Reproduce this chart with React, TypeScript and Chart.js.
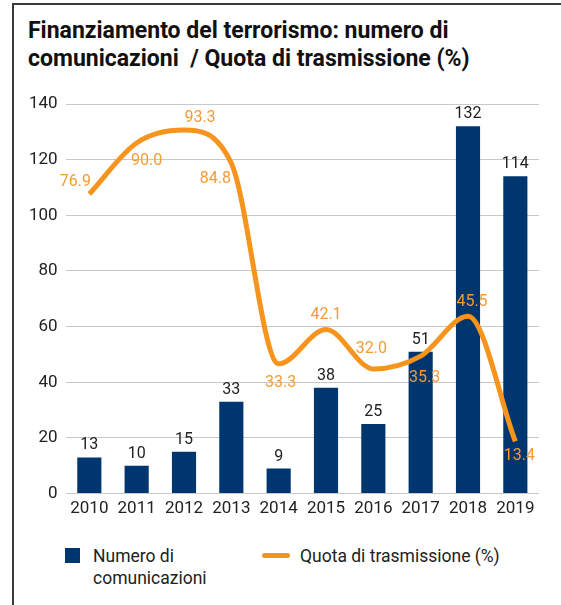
import React, { useEffect, useRef } from "react";
import { Chart, registerables } from "chart.js";

Chart.register(...registerables);

const years = ["2010", "2011", "2012", "2013", "2014", "2015", "2016", "2017", "2018", "2019"];
const comunicazioni = [13, 10, 15, 33, 9, 38, 25, 51, 132, 114];
const quota = [76.9, 90.0, 93.3, 84.8, 33.3, 42.1, 32.0, 35.3, 45.5, 13.4];
const yTicks = [0, 20, 40, 60, 80, 100, 120, 140];

// label placement (layout only)
const quotaLabelDx = [-14, 10, 16, -16, 2, 0, -2, 4, 4, 4];
const quotaLabelDy = [-12, 18, -12, 16, 19, -15, -20, 22, -14, 15];

const BAR_COLOR = "#00366f";
const LINE_COLOR = "#f7941d";
const LINE_LABEL_COLOR = "#f59b35";
const FONT = "Roboto, 'Liberation Sans', sans-serif";

const labelPlugin = {
  id: "valueLabels",
  afterDatasetsDraw(chart: any) {
    const ctx = chart.ctx;
    ctx.save();
    ctx.textAlign = "center";
    ctx.textBaseline = "middle";
    const barMeta = chart.getDatasetMeta(0);
    ctx.font = `16px ${FONT}`;
    ctx.fillStyle = "#222";
    barMeta.data.forEach((el: any, i: number) => {
      ctx.fillText(String(comunicazioni[i]), el.x, el.y - 12);
    });
    const lineMeta = chart.getDatasetMeta(1);
    ctx.fillStyle = LINE_LABEL_COLOR;
    lineMeta.data.forEach((el: any, i: number) => {
      ctx.fillText(quota[i].toFixed(1), el.x + quotaLabelDx[i], el.y + quotaLabelDy[i]);
    });
    ctx.restore();
  },
};

function ChartCanvas() {
  const ref = useRef<HTMLCanvasElement | null>(null);
  useEffect(() => {
    if (!ref.current) return;
    const chart = new Chart(ref.current, {
      type: "bar",
      data: {
        labels: years,
        datasets: [
          {
            type: "bar",
            label: "Numero di comunicazioni",
            data: comunicazioni,
            backgroundColor: BAR_COLOR,
            categoryPercentage: 1,
            barPercentage: 0.51,
            yAxisID: "y",
            order: 1,
          },
          {
            type: "line",
            label: "Quota di trasmissione (%)",
            data: quota,
            borderColor: LINE_COLOR,
            borderWidth: 5,
            pointRadius: 0,
            fill: false,
            cubicInterpolationMode: "monotone",
            yAxisID: "y2",
            order: 0,
          } as any,
        ],
      },
      options: {
        animation: false,
        responsive: false,
        devicePixelRatio: 1,
        layout: { padding: { left: 21, right: 22, top: 19, bottom: 14 } },
        plugins: {
          legend: { display: false },
          title: { display: false },
          tooltip: { enabled: false },
        },
        scales: {
          x: {
            grid: { display: false },
            border: { display: false },
            ticks: { color: "#222", font: { family: FONT, size: 17 }, padding: -3 },
          },
          y: {
            min: 0,
            max: 140,
            afterBuildTicks: (axis: any) => {
              axis.ticks = yTicks.map((v) => ({ value: v }));
            },
            grid: { color: "#c8c8c8", lineWidth: 1, drawTicks: false },
            border: { display: false },
            ticks: { color: "#222", font: { family: FONT, size: 17 }, padding: 8 },
          },
          y2: {
            min: 0,
            max: 100,
            display: false,
          },
        },
      },
      plugins: [labelPlugin],
    } as any);
    return () => chart.destroy();
  }, []);
  return (
    <canvas
      ref={ref}
      width={561}
      height={445}
      style={{ position: "absolute", left: 0, top: 85, width: 561, height: 445 }}
    />
  );
}

export default function App() {
  return (
    <div
      style={{
        position: "fixed",
        left: 0,
        top: 0,
        width: 561,
        height: 605,
        background: "#fff",
        overflow: "hidden",
        fontFamily: FONT,
      }}
    >
      <div
        style={{
          position: "absolute",
          left: 12,
          top: 3,
          right: -2,
          bottom: -2,
          borderTop: "2px solid #3a3a3a",
          borderLeft: "2px solid #3a3a3a",
        }}
      />
      <div
        style={{
          position: "absolute",
          left: 28,
          top: 17,
          fontSize: 23,
          fontWeight: 700,
          lineHeight: "28px",
          color: "#111",
          whiteSpace: "pre",
        }}
      >
        {"Finanziamento del terrorismo: numero di\ncomunicazioni  / Quota di trasmissione (%)"}
      </div>
      <ChartCanvas />
      <div style={{ position: "absolute", left: 65, top: 548, width: 15, height: 15, background: BAR_COLOR }} />
      <div
        style={{
          position: "absolute",
          left: 93,
          top: 545,
          fontSize: 17.5,
          lineHeight: "22px",
          color: "#222",
          whiteSpace: "pre",
        }}
      >
        {"Numero di\ncomunicazioni"}
      </div>
      <div
        style={{
          position: "absolute",
          left: 262,
          top: 553,
          width: 28,
          height: 5,
          borderRadius: 3,
          background: LINE_COLOR,
        }}
      />
      <div
        style={{
          position: "absolute",
          left: 300,
          top: 545,
          fontSize: 17.5,
          lineHeight: "22px",
          color: "#222",
          whiteSpace: "pre",
        }}
      >
        {"Quota di trasmissione (%)"}
      </div>
    </div>
  );
}
